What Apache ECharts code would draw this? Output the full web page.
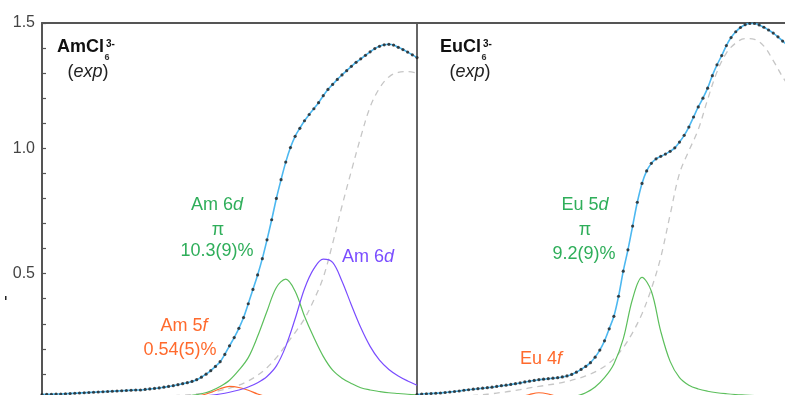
<!DOCTYPE html>
<html><head><meta charset="utf-8">
<script src="https://cdn.jsdelivr.net/npm/echarts@6/dist/echarts.min.js"></script>
<style>html,body{margin:0;padding:0;background:#fff}#c{width:785px;height:395px}</style>
</head><body><div id="c"></div>
<script>
// ---- data (energy axis in eV, arbitrary origin per panel) ----
const E0 = 2818;          // left edge of each panel
const ESPAN = 10;         // eV across a panel
const expStep = 0.125;    // experimental sampling step
const cmpStep = 0.25;     // component curve sampling step
const yTicks = [0.5, 1.0, 1.5];

const amExp = [0.018,0.019,0.019,0.020,0.020,0.021,0.022,0.023,0.024,0.025,
 0.026,0.027,0.028,0.029,0.030,0.031,0.032,0.033,0.034,0.035,
 0.036,0.036,0.038,0.040,0.042,0.044,0.047,0.050,0.053,0.057,
 0.061,0.065,0.070,0.077,0.087,0.099,0.113,0.130,0.149,0.178,
 0.212,0.245,0.282,0.325,0.380,0.437,0.495,0.560,0.635,0.715,
 0.800,0.875,0.945,1.003,1.048,1.080,1.110,1.135,1.158,1.182,
 1.210,1.235,1.255,1.275,1.293,1.310,1.327,1.343,1.357,1.371,
 1.385,1.398,1.407,1.413,1.415,1.412,1.403,1.394,1.384,1.373,
 1.362];
const amEdge = [0.005,0.005,0.005,0.005,0.006,0.006,0.006,0.007,0.007,0.008,
 0.008,0.009,0.010,0.011,0.013,0.015,0.018,0.022,0.027,0.034,
 0.043,0.055,0.072,0.095,0.125,0.165,0.215,0.265,0.320,0.395,
 0.485,0.620,0.770,0.910,1.045,1.165,1.240,1.285,1.303,1.306,
 1.300];
const amPi6d = [0.001,0.001,0.001,0.001,0.001,0.001,0.002,0.002,0.002,0.003,
 0.003,0.004,0.005,0.006,0.008,0.011,0.015,0.021,0.032,0.050,
 0.075,0.115,0.165,0.250,0.350,0.445,0.478,0.430,0.330,0.245,
 0.170,0.115,0.083,0.062,0.045,0.036,0.030,0.025,0.022,0.019,
 0.017];
const amSigma6d = [0.002,0.002,0.002,0.003,0.003,0.003,0.004,0.004,0.005,0.005,
 0.006,0.007,0.007,0.008,0.009,0.010,0.012,0.013,0.015,0.020,
 0.027,0.036,0.048,0.065,0.090,0.132,0.210,0.320,0.440,0.520,
 0.558,0.545,0.470,0.375,0.285,0.210,0.155,0.118,0.092,0.072,
 0.055];
const am5f = [0.001,0.001,0.001,0.001,0.001,0.001,0.001,0.001,0.001,0.001,
 0.001,0.001,0.001,0.001,0.002,0.004,0.008,0.015,0.026,0.041,
 0.050,0.046,0.035,0.020,0.009,0.004,0.002,0.001,0.001,0.001,
 0.001,0.001,0.001,0.001,0.001,0.001,0.001,0.001,0.001,0.001,
 0.001];

const euExp = [0.018,0.020,0.021,0.022,0.023,0.024,0.026,0.028,0.030,0.032,
 0.035,0.037,0.039,0.041,0.043,0.045,0.047,0.050,0.053,0.055,
 0.058,0.061,0.064,0.068,0.071,0.074,0.077,0.079,0.081,0.083,
 0.085,0.088,0.092,0.098,0.107,0.118,0.130,0.145,0.167,0.195,
 0.232,0.280,0.330,0.410,0.510,0.595,0.690,0.785,0.860,0.910,
 0.940,0.958,0.968,0.977,0.988,1.002,1.025,1.052,1.085,1.125,
 1.165,1.200,1.240,1.290,1.333,1.370,1.410,1.442,1.465,1.482,
 1.493,1.498,1.498,1.492,1.483,1.472,1.460,1.445,1.428,1.412,
 1.395];
const euEdge = [0.005,0.006,0.007,0.008,0.010,0.012,0.014,0.017,0.021,0.026,
 0.031,0.037,0.044,0.050,0.056,0.062,0.070,0.080,0.092,0.108,
 0.130,0.160,0.205,0.265,0.340,0.440,0.565,0.735,0.900,0.990,
 1.075,1.195,1.305,1.380,1.420,1.438,1.435,1.408,1.350,1.285,
 1.230];
const euPi5d = [0.001,0.001,0.001,0.001,0.001,0.001,0.001,0.002,0.002,0.002,
 0.003,0.003,0.004,0.005,0.006,0.007,0.009,0.012,0.025,0.048,
 0.085,0.140,0.240,0.400,0.485,0.430,0.270,0.150,0.085,0.055,
 0.040,0.031,0.025,0.021,0.018,0.016,0.014,0.012,0.011,0.010,
 0.009];
const eu4f = [0.001,0.001,0.001,0.001,0.001,0.001,0.001,0.001,0.001,0.001,
 0.003,0.008,0.018,0.025,0.020,0.009,0.003,0.001,0.001,0.001,
 0.001,0.001,0.001,0.001,0.001,0.001,0.001,0.001,0.001,0.001,
 0.001,0.001,0.001,0.001,0.001,0.001,0.001,0.001,0.001,0.001,
 0.001];

// ---- styling ----
const FONT = '"Liberation Sans", Arial, Helvetica, sans-serif';
const AXIS = '#555';
const GREEN_L = '#5cbf5c', GREEN_T = '#2fae5a';
const PURPLE = '#7a4dff';
const ORANGE = '#ff6a2d';
const BLUE = '#4db8f0';
const GRAY = '#c6c6c6';

function pairs(arr, step) { return arr.map((v, i) => [E0 + i * step, v]); }

function lineSeries(idx, arr, step, color, extra) {
  return Object.assign({
    type: 'line', xAxisIndex: idx, yAxisIndex: idx, data: pairs(arr, step),
    smooth: 0.35, showSymbol: false, symbol: 'none',
    lineStyle: { color: color, width: 1.2 }, silent: true, z: 2
  }, extra || {});
}

const series = [];
[[0, amExp, amEdge, [[am5f, ORANGE], [amPi6d, GREEN_L], [amSigma6d, PURPLE]]],
 [1, euExp, euEdge, [[eu4f, ORANGE], [euPi5d, GREEN_L]]]].forEach(([i, exp, edge, comps]) => {
  series.push(lineSeries(i, edge, cmpStep, GRAY, { lineStyle: { color: GRAY, width: 1.3, type: [6, 5] } }));
  comps.forEach(([arr, col]) => series.push(lineSeries(i, arr, cmpStep, col)));
  series.push(lineSeries(i, exp, expStep, BLUE, { lineStyle: { color: BLUE, width: 1.6 }, z: 3 }));
  series.push({ type: 'scatter', xAxisIndex: i, yAxisIndex: i, data: pairs(exp, expStep),
    symbolSize: 3.2, itemStyle: { color: '#1e1e1e' }, silent: true, z: 4 });
});

const grids = [
  { left: 42, top: 23, width: 375, height: 376, outerBoundsMode: 'none', containLabel: false },
  { left: 417, top: 23, width: 375, height: 376, outerBoundsMode: 'none', containLabel: false }
];
const xAxes = grids.map((g, i) => ({
  type: 'value', gridIndex: i, min: E0, max: E0 + ESPAN, position: 'top',
  axisLine: { show: true, onZero: false, lineStyle: { color: AXIS, width: 2 } },
  axisTick: { show: false }, axisLabel: { show: false }, splitLine: { show: false }
}));
const yAxes = grids.map((g, i) => ({
  type: 'value', gridIndex: i, min: 0, max: 1.5, interval: 0.1,
  axisLine: { show: true, onZero: false, lineStyle: { color: i === 0 ? AXIS : '#666', width: 2 } },
  axisTick: { show: i === 0, inside: true, length: 4, lineStyle: { color: AXIS, width: 1.2 } },
  axisLabel: { show: i === 0, margin: 7, color: '#444', fontSize: 16, fontFamily: FONT,
    formatter: v => { const t = yTicks.find(t => Math.abs(t - v) < 1e-6); return t ? t.toFixed(1) : ''; } },
  splitLine: { show: false }
}));

// ---- text annotations ----
const ctx = document.createElement('canvas').getContext('2d');
function measure(txt, font) { ctx.font = font; return ctx.measureText(txt).width; }

function richLabel(x, y, text, color) {
  return { type: 'text', x: x, y: y, z: 10, silent: true,
    style: { text: text, align: 'center', verticalAlign: 'middle', fill: color,
      rich: {
        n: { fontSize: 18, fontFamily: FONT, fill: color },
        i: { fontSize: 18, fontFamily: FONT, fill: color, fontStyle: 'italic' }
      } } };
}
function formula(x, y, base) {
  const bf = 'bold 18px ' + FONT;
  const w = measure(base, bf);
  return [
    { type: 'text', x: x, y: y, z: 10, silent: true,
      style: { text: base, font: bf, fill: '#111', align: 'left', verticalAlign: 'middle' } },
    { type: 'text', x: x + w + 0.5, y: y + 11, z: 10, silent: true,
      style: { text: '6', font: 'bold 9px ' + FONT, fill: '#333', align: 'left', verticalAlign: 'middle' } },
    { type: 'text', x: x + w + 2, y: y - 2.5, z: 10, silent: true,
      style: { text: '3-', font: 'bold 10px ' + FONT, fill: '#111', align: 'left', verticalAlign: 'middle' } }
  ];
}

const graphic = [].concat(
  formula(57, 47, 'AmCl'),
  [richLabel(88, 72, '{n|(}{i|exp}{n|)}', '#222')],
  formula(440, 47, 'EuCl'),
  [richLabel(470, 72, '{n|(}{i|exp}{n|)}', '#222')],
  [
    richLabel(217, 205, '{n|Am 6}{i|d}', GREEN_T),
    richLabel(218, 230, '{n|π}', GREEN_T),
    richLabel(217, 251, '{n|10.3(9)%}', GREEN_T),
    richLabel(368, 257, '{n|Am 6}{i|d}', PURPLE),
    richLabel(184, 326, '{n|Am 5}{i|f}', ORANGE),
    richLabel(180, 350, '{n|0.54(5)%}', ORANGE),
    richLabel(585, 205, '{n|Eu 5}{i|d}', GREEN_T),
    richLabel(585, 230, '{n|π}', GREEN_T),
    richLabel(584, 254, '{n|9.2(9)%}', GREEN_T),
    richLabel(541, 359, '{n|Eu 4}{i|f}', ORANGE),
    { type: 'rect', shape: { x: 5, y: 296, width: 1.5, height: 4 }, style: { fill: '#222' }, silent: true }
  ]
);

const chart = echarts.init(document.getElementById('c'), null, { renderer: 'canvas' });
chart.setOption({
  animation: false,
  backgroundColor: '#fff',
  grid: grids,
  xAxis: xAxes,
  yAxis: yAxes,
  series: series,
  graphic: graphic
});
</script></body></html>
